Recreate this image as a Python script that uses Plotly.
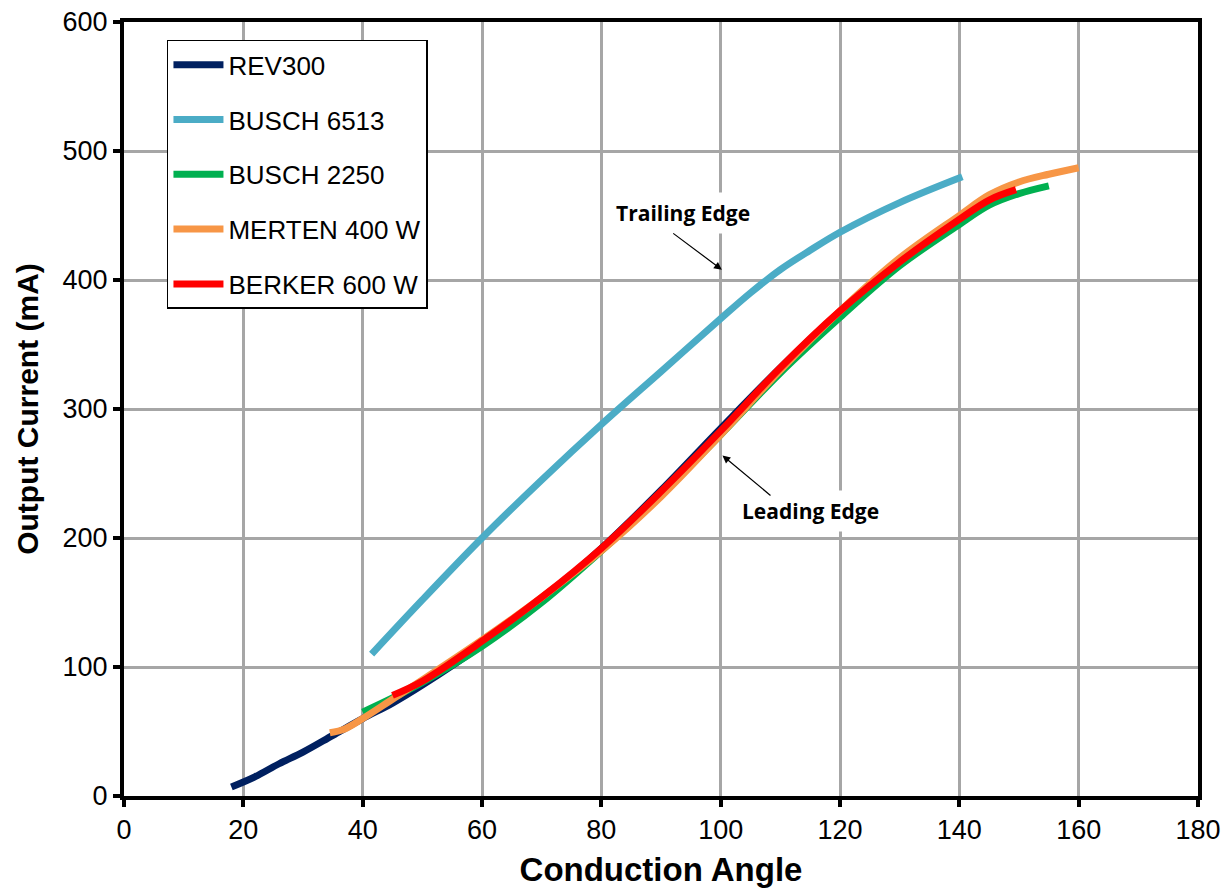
import plotly.graph_objects as go

# Data
rev300_x = [18, 22, 26, 30, 35, 40, 45, 50, 60, 70, 80, 90, 100, 110, 118]
rev300_y = [7, 15, 25, 34, 47, 60, 72, 86, 117, 152, 192, 237, 285, 332, 367]

busch6513_x = [41.5, 50, 60, 70, 80, 90, 100, 105, 110, 115, 120, 130, 140.5]
busch6513_y = [110, 152, 200, 245, 288, 329, 370, 390, 408, 423, 437, 460, 480]

busch2250_x = [40, 45, 50, 60, 70, 80, 90, 100, 110, 120, 130, 140, 145, 150, 155]
busch2250_y = [65, 76, 88, 116, 150, 190, 233, 280, 328, 371, 411, 443, 458, 467, 473]

merten_x = [34.5, 37, 40, 45, 50, 60, 70, 80, 90, 100, 110, 120, 130, 140, 145, 150, 155, 160]
merten_y = [49, 52, 60, 75, 90, 121, 154, 190, 232, 280, 330, 376, 417, 450, 466, 476, 482, 487]

berker_x = [45, 50, 60, 70, 80, 90, 100, 110, 120, 130, 140, 145, 149.5]
berker_y = [78, 89, 120, 154, 192, 236, 283, 332, 376, 414, 447, 462, 470]

series = [
    ("REV300", rev300_x, rev300_y, "#002060"),
    ("BUSCH 6513", busch6513_x, busch6513_y, "#4BACC6"),
    ("BUSCH 2250", busch2250_x, busch2250_y, "#00B050"),
    ("MERTEN 400 W", merten_x, merten_y, "#F79646"),
    ("BERKER 600 W", berker_x, berker_y, "#FF0000"),
]

fig = go.Figure()
for i, (name, xs, ys, col) in enumerate(series):
    fig.add_trace(go.Scatter(
        x=xs, y=ys, name=name, mode="lines",
        line=dict(color=col, width=7, shape="spline", smoothing=1.0),
        legendgroup=f"g{i}",
    ))

axis_common = dict(
    showgrid=True, gridcolor="#A6A6A6", gridwidth=3,
    showline=True, linecolor="black", linewidth=4, mirror=True,
    ticks="outside", ticklen=7, tickwidth=4, tickcolor="black",
    tickfont=dict(family="Arial, Liberation Sans", size=27, color="black"),
    zeroline=False, automargin=False,
)

fig.update_xaxes(
    range=[0, 180], dtick=20, tick0=0,
    title=dict(text="<b>Conduction Angle</b>", font=dict(family="Arial, Liberation Sans", size=33, color="black"), standoff=14),
    **axis_common,
)
fig.update_yaxes(
    range=[0, 600], dtick=100, tick0=0,
    title=dict(text="<b>Output Current (mA)</b>", font=dict(family="Arial, Liberation Sans", size=30, color="black"), standoff=16),
    **axis_common,
)

# Annotations
fig.add_annotation(x=93.7, y=452, xref="x", yref="y", text="<b>Trailing Edge</b>",
                   showarrow=False, bgcolor="white", borderpad=6,
                   font=dict(family="Open Sans, Lato", size=21, color="black"))
fig.add_annotation(x=100.2, y=408, ax=91.8, ay=437, xref="x", yref="y", axref="x", ayref="y",
                   text="", showarrow=True, arrowhead=2, arrowsize=1.3, arrowwidth=1.2, arrowcolor="black")
fig.add_annotation(x=115.1, y=221, xref="x", yref="y", text="<b>Leading Edge</b>",
                   showarrow=False, bgcolor="white", borderpad=6,
                   font=dict(family="Open Sans, Lato", size=21, color="black"))
fig.add_annotation(x=100.3, y=264, ax=108.6, ay=232, xref="x", yref="y", axref="x", ayref="y",
                   text="", showarrow=True, arrowhead=2, arrowsize=1.3, arrowwidth=1.2, arrowcolor="black")

fig.update_layout(
    width=1223, height=890,
    margin=dict(l=124, r=25, t=22, b=94, autoexpand=False),
    paper_bgcolor="white", plot_bgcolor="white",
    legend=dict(
        x=0.04, y=0.977, xanchor="left", yanchor="top",
        bgcolor="white", bordercolor="black", borderwidth=1.5,
        font=dict(family="Arial, Liberation Sans", size=26, color="black"),
        tracegroupgap=18, itemwidth=50,
    ),
    showlegend=True,
)

fig.write_html("out.html")
